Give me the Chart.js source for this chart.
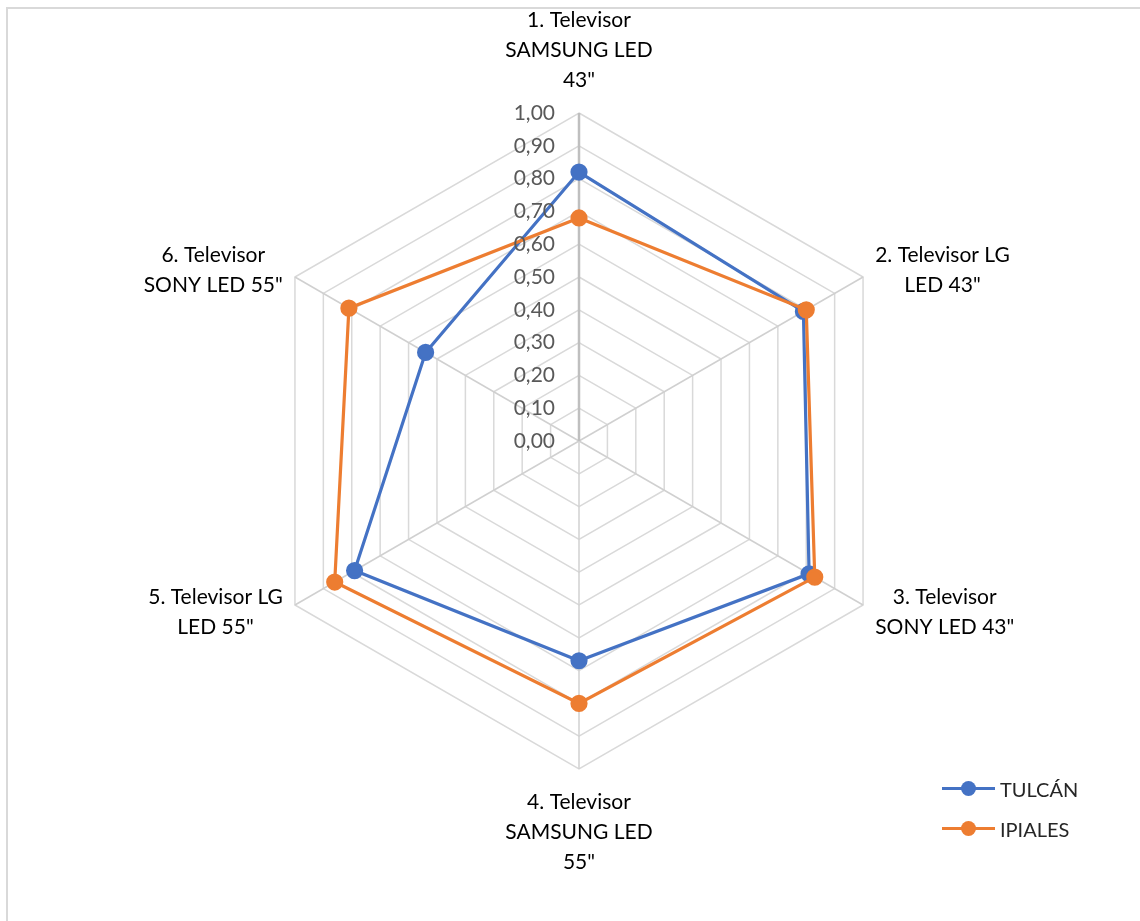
<!DOCTYPE html>
<html>
<head>
<meta charset="utf-8">
<script src="https://cdn.jsdelivr.net/npm/chart.js@4/dist/chart.umd.min.js"></script>
<style>
  body { margin: 0; background: #fff; overflow: hidden; }
  #wrap { position: relative; width: 1140px; height: 921px; }
  #frame { position: absolute; left: 6px; top: 7px; width: 1200px; height: 1000px; border: 2px solid #d9d9d9; }
  canvas { position: absolute; left: 0; top: 0; }
  .leg { position: absolute; left: 942px; font: 20px Lato, sans-serif; color: #262626; height: 24px; line-height: 24px; }
  .leg .ln { position: absolute; left: 0; top: 10px; width: 53px; height: 3px; }
  .leg .dot { position: absolute; left: 19px; top: 4px; width: 15px; height: 15px; border-radius: 50%; }
  .leg .tx { position: absolute; left: 58px; top: 0; white-space: nowrap; }
</style>
</head>
<body>
<div id="wrap">
  <div id="frame"></div>
  <canvas id="radar" width="1140" height="921"></canvas>
  <div id="legend"></div>
</div>
<script>
const labels = [
  ["1. Televisor", "SAMSUNG LED", "43\""],
  ["2. Televisor LG", "LED 43\""],
  ["3. Televisor", "SONY LED 43\""],
  ["4. Televisor", "SAMSUNG LED", "55\""],
  ["5. Televisor LG", "LED 55\""],
  ["6. Televisor", "SONY LED 55\""]
];
const tulcan = [0.82, 0.79, 0.81, 0.67, 0.79, 0.54];
const ipiales = [0.68, 0.80, 0.83, 0.80, 0.86, 0.81];
const tickValues = [0, 0.1, 0.2, 0.3, 0.4, 0.5, 0.6, 0.7, 0.8, 0.9, 1.0];

const blue = "#4472C4";
const orange = "#ED7D31";

// tick labels left of the vertical axis, like excel does
const tickPlugin = {
  id: "tickLabels",
  afterDraw(chart) {
    const scale = chart.scales.r;
    const ctx = chart.ctx;
    ctx.save();
    ctx.font = "21px Lato, sans-serif";
    ctx.fillStyle = "#595959";
    ctx.textAlign = "right";
    ctx.textBaseline = "middle";
    tickValues.forEach(v => {
      const d = scale.getDistanceFromCenterForValue(v);
      ctx.fillText(v.toFixed(2).replace(".", ","), scale.xCenter - 24, scale.yCenter - d);
    });
    ctx.restore();
  }
};

// centered multi-line category labels
const labelPlugin = {
  id: "catLabels",
  afterDraw(chart) {
    const scale = chart.scales.r;
    const ctx = chart.ctx;
    const lh = 30;
    ctx.save();
    ctx.font = "21px Lato, sans-serif";
    ctx.fillStyle = "#000";
    ctx.textAlign = "center";
    ctx.textBaseline = "middle";
    labels.forEach((lines, i) => {
      const w = Math.max(...lines.map(l => ctx.measureText(l).width));
      const h = lines.length * lh;
      let cx, cy;
      if (i === 0) {
        const p = scale.getPointPosition(i, scale.drawingArea + 18);
        cx = p.x; cy = p.y - h / 2;
      } else if (i === 3) {
        const p = scale.getPointPosition(i, scale.drawingArea + 18);
        cx = p.x; cy = p.y + h / 2;
      } else if (i === 1 || i === 2) {
        const p = scale.getPointPosition(i, scale.drawingArea + 14);
        cx = p.x + w / 2; cy = p.y;
      } else {
        const p = scale.getPointPosition(i, scale.drawingArea + 14);
        cx = p.x - w / 2; cy = p.y;
      }
      lines.forEach((l, k) => {
        ctx.fillText(l, cx, cy - h / 2 + lh / 2 + k * lh);
      });
    });
    ctx.restore();
  }
};

const config = {
  type: "radar",
  data: {
    labels: labels,
    datasets: [
      {
        label: "TULCÁN",
        data: tulcan,
        borderColor: blue,
        backgroundColor: blue,
        pointBackgroundColor: blue,
        pointBorderColor: blue,
        borderWidth: 3.2,
        pointRadius: 7,
        fill: false,
        order: 1
      },
      {
        label: "IPIALES",
        data: ipiales,
        borderColor: orange,
        backgroundColor: orange,
        pointBackgroundColor: orange,
        pointBorderColor: orange,
        borderWidth: 3.2,
        pointRadius: 7,
        fill: false,
        order: 0
      }
    ]
  },
  options: {
    responsive: false,
    animation: false,
    layout: { padding: { left: 251, right: 233, top: 113, bottom: 152 } },
    plugins: {
      legend: { display: false },
      tooltip: { enabled: false }
    },
    scales: {
      r: {
        min: 0,
        max: 1,
        ticks: { stepSize: 0.1, display: false },
        pointLabels: { display: false },
        grid: { color: "#d9d9d9", lineWidth: 1.5 },
        angleLines: {
          color: ctx => ctx.index === 0 ? "#bfbfbf" : "#d0d0d0",
          lineWidth: ctx => ctx.index === 0 ? 2.5 : 1.5
        }
      }
    }
  },
  plugins: [tickPlugin, labelPlugin]
};

new Chart(document.getElementById("radar"), config);

// legend
const legendBox = document.getElementById("legend");
[["TULCÁN", blue, 777], ["IPIALES", orange, 817]].forEach(([name, color, top]) => {
  const item = document.createElement("div");
  item.className = "leg";
  item.style.top = top + "px";
  item.innerHTML = `<span class="ln" style="background:${color}"></span><span class="dot" style="background:${color}"></span><span class="tx">${name}</span>`;
  legendBox.appendChild(item);
});
</script>
</body>
</html>
